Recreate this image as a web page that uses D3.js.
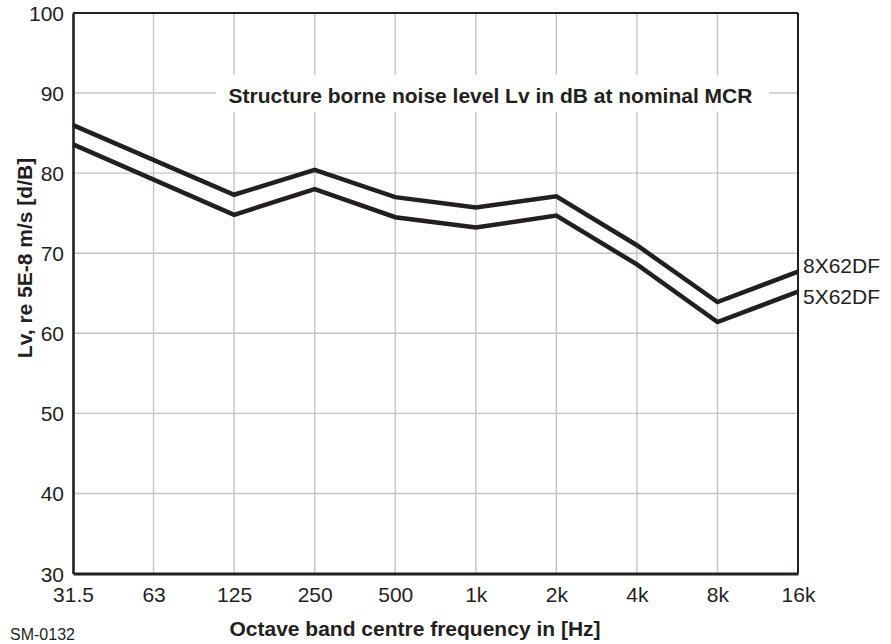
<!DOCTYPE html>
<html><head><meta charset="utf-8">
<script src="https://cdn.jsdelivr.net/npm/d3@7"></script>
<style>
html,body{margin:0;padding:0;background:#fff;}
svg{display:block;font-family:"Liberation Sans",Arial,sans-serif;}
</style></head>
<body>
<svg id="chart" width="891" height="644"></svg>
<script>
const freqLabels = ["31.5","63","125","250","500","1k","2k","4k","8k","16k"];
const yTicks = [30,40,50,60,70,80,90,100];
const seriesFreqs = ["31.5","125","250","500","1k","2k","4k","8k","16k"];
const series8X62DF = [86.0, 77.3, 80.4, 77.0, 75.7, 77.1, 71.0, 63.9, 67.7];
const series5X62DF = [83.6, 74.8, 78.0, 74.5, 73.2, 74.7, 68.6, 61.4, 65.2];
const seriesNames = ["8X62DF","5X62DF"];
const chartTitle = "Structure borne noise level Lv in dB at nominal MCR";
const xTitle = "Octave band centre frequency in [Hz]";
const yTitle = "Lv, re 5E-8 m/s [d/B]";
const docId = "SM-0132";

const svg = d3.select("#chart");
const L = 73, R = 798, T = 13, B = 573.5;
const x = d3.scalePoint().domain(freqLabels).range([L, R]);
const y = d3.scaleLinear().domain([30, 100]).range([B, T]);
const ink = "#231f20";
const FONT = "Liberation Sans, Arial, sans-serif";

// grid
const g = svg.append("g");
g.selectAll("line.v").data(freqLabels.slice(1, -1)).join("line")
  .attr("x1", d => x(d)).attr("x2", d => x(d)).attr("y1", T).attr("y2", B)
  .attr("stroke", "#c4c4c8").attr("stroke-width", 1.4);
g.selectAll("line.h").data(yTicks.slice(1, -1)).join("line")
  .attr("x1", L).attr("x2", R).attr("y1", d => y(d)).attr("y2", d => y(d))
  .attr("stroke", "#c4c4c8").attr("stroke-width", 1.4);

// title box (white background)
svg.append("rect").attr("x", 216).attr("y", 75).attr("width", 553).attr("height", 37).attr("fill", "#fff");
svg.append("text").attr("x", 490.5).attr("y", 102.7).attr("text-anchor", "middle")
  .attr("font-weight", "bold").attr("font-size", 21).attr("fill", ink).text(chartTitle);

// frame
svg.append("line").attr("x1", L).attr("x2", R).attr("y1", T).attr("y2", T).attr("stroke", ink).attr("stroke-width", 2);
svg.append("line").attr("x1", R).attr("x2", R).attr("y1", T).attr("y2", B).attr("stroke", ink).attr("stroke-width", 2);

// axes
const yAxis = d3.axisLeft(y).tickValues(yTicks).tickSize(0).tickPadding(9);
const ya = svg.append("g").attr("transform", `translate(${L},0)`).call(yAxis);
ya.select(".domain").attr("stroke", ink).attr("stroke-width", 2.6);
ya.selectAll("text").attr("font-size", 21).attr("fill", ink).attr("font-family", FONT).attr("dy", "0.36em");

const xAxis = d3.axisBottom(x).tickSize(0).tickPadding(14);
const xa = svg.append("g").attr("transform", `translate(0,${B})`).call(xAxis);
xa.select(".domain").attr("stroke", ink).attr("stroke-width", 2.8);
xa.selectAll("text").attr("font-size", 21).attr("fill", ink).attr("font-family", FONT);

// lines
const labelOffsets = [1.2, 12.6];
const line = d3.line().x(d => x(d[0])).y(d => y(d[1]));
[series8X62DF, series5X62DF].forEach((vals, i) => {
  const pts = seriesFreqs.map((f, j) => [f, vals[j]]);
  svg.append("path").datum(pts).attr("d", line).attr("fill", "none")
    .attr("stroke", ink).attr("stroke-width", 4.5).attr("stroke-linejoin", "miter");
  svg.append("text").attr("x", R + 5).attr("y", y(vals[vals.length - 1]) + labelOffsets[i])
    .attr("font-size", 21).attr("fill", ink).text(seriesNames[i]);
});

// axis titles
svg.append("text").attr("x", 415).attr("y", 636).attr("text-anchor", "middle")
  .attr("font-weight", "bold").attr("font-size", 21).attr("fill", ink).text(xTitle);
svg.append("text").attr("transform", "translate(32,258) rotate(-90)").attr("text-anchor", "middle")
  .attr("font-weight", "bold").attr("font-size", 21).attr("fill", ink).text(yTitle);
svg.append("text").attr("x", 10).attr("y", 640).attr("font-size", 16).attr("fill", ink).text(docId);
</script>
</body></html>
